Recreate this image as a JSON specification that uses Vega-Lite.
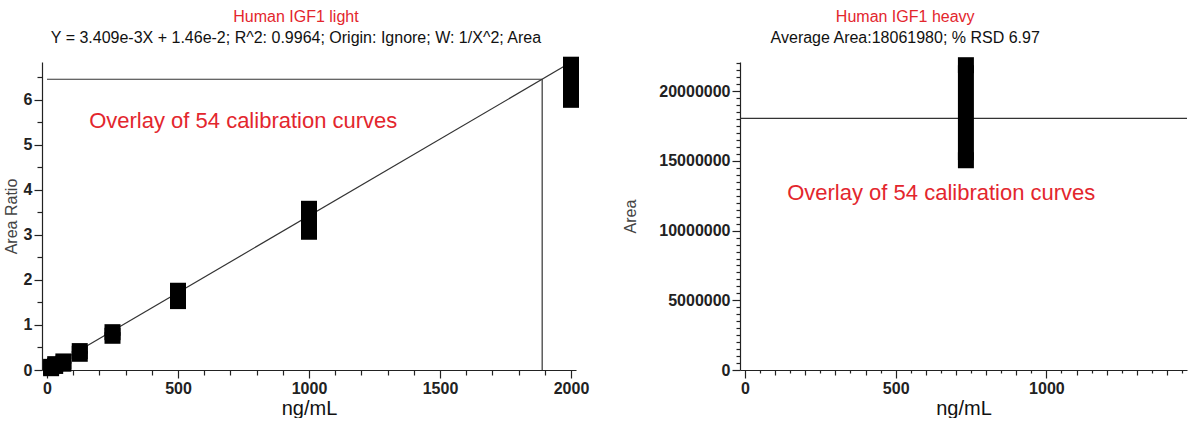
{
  "$schema": "https://vega.github.io/schema/vega-lite/v6.json",
  "padding": {"left": 3, "top": 8, "right": 0, "bottom": 0},
  "spacing": 33,
  "config": {
    "view": {"stroke": null},
    "font": "Liberation Sans",
    "axis": {
      "grid": false,
      "domainColor": "#222",
      "tickColor": "#222",
      "domainWidth": 1.2,
      "tickWidth": 1.2,
      "labelFont": "Liberation Sans",
      "labelFontSize": 16,
      "labelFontWeight": "bold",
      "labelColor": "#222",
      "titleFont": "Liberation Sans",
      "titleFontWeight": "normal",
      "labelPadding": 2
    },
    "title": {
      "font": "Liberation Sans",
      "subtitleFont": "Liberation Sans",
      "fontSize": 16,
      "subtitleFontSize": 16,
      "fontWeight": "normal",
      "color": "#e3262d",
      "subtitleColor": "#111",
      "anchor": "middle",
      "frame": "bounds",
      "offset": 11,
      "subtitlePadding": 5
    }
  },
  "hconcat": [
    {
      "title": {"text": "Human IGF1 light", "subtitle": "Y = 3.409e-3X + 1.46e-2; R^2: 0.9964; Origin: Ignore; W: 1/X^2; Area"},
      "width": 534,
      "height": 308,
      "resolve": {"axis": {"x": "independent", "y": "independent"}},
      "layer": [
        {
          "data": {"values": [{"conc": 0, "ratio": 0.0146}, {"conc": 2000, "ratio": 6.8326}]},
          "mark": {"type": "line", "color": "#333", "strokeWidth": 1.2},
          "encoding": {
            "x": {"field": "conc", "type": "quantitative", "scale": {"domain": [0, 2000], "nice": false},
              "axis": {"orient": "bottom", "values": [0, 500, 1000, 1500, 2000], "format": "d", "tickSize": 8, "title": "ng/mL", "titleFontSize": 20, "titleColor": "#111", "titlePadding": 2}},
            "y": {"field": "ratio", "type": "quantitative", "scale": {"domain": [0, 6.84], "nice": false},
              "axis": {"orient": "left", "values": [0, 1, 2, 3, 4, 5, 6], "tickSize": 8, "title": "Area Ratio", "titleFontSize": 16, "titleColor": "#444", "titlePadding": 4}}
          }
        },
        {
          "data": {"values": [
            {"x": 0, "x2": 1890, "y": 6.457, "y2": 6.457},
            {"x": 1890, "x2": 1890, "y": 0, "y2": 6.457}
          ]},
          "mark": {"type": "rule", "color": "#333", "strokeWidth": 1.2},
          "encoding": {
            "x": {"field": "x", "type": "quantitative",
              "axis": {"orient": "bottom", "values": [100, 200, 300, 400, 600, 700, 800, 900, 1100, 1200, 1300, 1400, 1600, 1700, 1800, 1900], "tickSize": 5, "labels": false, "domain": false, "title": null}},
            "x2": {"field": "x2"},
            "y": {"field": "y", "type": "quantitative",
              "axis": {"orient": "left", "values": [0.5, 1.5, 2.5, 3.5, 4.5, 5.5, 6.5], "tickSize": 5, "labels": false, "domain": false, "title": null}},
            "y2": {"field": "y2"}
          }
        },
        {
          "data": {"name": "light"},
          "mark": {"type": "bar", "color": "#000", "size": 16},
          "encoding": {
            "x": {"field": "conc", "type": "quantitative", "axis": null},
            "y": {"field": "lo", "type": "quantitative", "axis": null},
            "y2": {"field": "hi"}
          }
        },
        {
          "data": {"name": "light"},
          "mark": {"type": "point", "shape": "square", "filled": true, "size": 256, "color": "#000", "opacity": 1},
          "encoding": {
            "x": {"field": "conc", "type": "quantitative", "axis": null},
            "y": {"field": "lo", "type": "quantitative", "axis": null}
          }
        },
        {
          "data": {"name": "light"},
          "mark": {"type": "point", "shape": "square", "filled": true, "size": 256, "color": "#000", "opacity": 1},
          "encoding": {
            "x": {"field": "conc", "type": "quantitative", "axis": null},
            "y": {"field": "hi", "type": "quantitative", "axis": null}
          }
        },
        {
          "data": {"values": [{"x": 161, "y": 5.52, "label": "Overlay of 54 calibration curves"}]},
          "mark": {"type": "text", "align": "left", "baseline": "middle", "fontSize": 22, "color": "#e3262d", "font": "Liberation Sans"},
          "encoding": {
            "x": {"field": "x", "type": "quantitative", "axis": null},
            "y": {"field": "y", "type": "quantitative", "axis": null},
            "text": {"field": "label"}
          }
        }
      ]
    },
    {
      "title": {"text": "Human IGF1 heavy", "subtitle": "Average Area:18061980; % RSD 6.97"},
      "width": 447,
      "height": 308,
      "resolve": {"axis": {"x": "independent", "y": "independent"}},
      "layer": [
        {
          "data": {"values": [{"area": 18061980}]},
          "mark": {"type": "rule", "color": "#333", "strokeWidth": 1.2},
          "encoding": {
            "y": {"field": "area", "type": "quantitative", "axis": null}
          }
        },
        {
          "data": {"name": "heavy"},
          "mark": {"type": "bar", "color": "#000", "size": 16},
          "encoding": {
            "x": {"field": "conc", "type": "quantitative", "scale": {"domain": [0, 1450], "nice": false},
              "axis": {"orient": "bottom", "values": [0, 500, 1000], "format": "d", "tickSize": 8, "title": "ng/mL", "titleFontSize": 20, "titleColor": "#111", "titlePadding": 2}},
            "y": {"field": "lo", "type": "quantitative", "scale": {"domain": [0, 22100000], "nice": false},
              "axis": {"orient": "left", "values": [0, 5000000, 10000000, 15000000, 20000000], "format": "d", "tickSize": 8, "title": "Area", "titleFontSize": 16, "titleColor": "#444", "titlePadding": 20}},
            "y2": {"field": "hi"}
          }
        },
        {
          "data": {"name": "heavy"},
          "mark": {"type": "point", "shape": "square", "filled": true, "size": 256, "color": "#000", "opacity": 1},
          "encoding": {
            "x": {"field": "conc", "type": "quantitative",
              "axis": {"orient": "bottom", "values": [50, 150, 250, 350, 450, 550, 650, 750, 850, 950, 1050, 1150, 1250, 1350, 1450], "tickSize": 3, "labels": false, "domain": false, "title": null}},
            "y": {"field": "lo", "type": "quantitative",
              "axis": {"orient": "left", "values": [500000, 1000000, 1500000, 2000000, 2500000, 3000000, 3500000, 4000000, 4500000, 5500000, 6000000, 6500000, 7000000, 7500000, 8000000, 8500000, 9000000, 9500000, 10500000, 11000000, 11500000, 12000000, 12500000, 13000000, 13500000, 14000000, 14500000, 15500000, 16000000, 16500000, 17000000, 17500000, 18000000, 18500000, 19000000, 19500000, 20500000, 21000000, 21500000, 22000000], "tickSize": 4, "labels": false, "domain": false, "title": null}}
          }
        },
        {
          "data": {"name": "heavy"},
          "mark": {"type": "point", "shape": "square", "filled": true, "size": 256, "color": "#000", "opacity": 1},
          "encoding": {
            "x": {"field": "conc", "type": "quantitative",
              "axis": {"orient": "bottom", "values": [100, 200, 300, 400, 600, 700, 800, 900, 1100, 1200, 1300, 1400], "tickSize": 5, "labels": false, "domain": false, "title": null}},
            "y": {"field": "hi", "type": "quantitative", "axis": null}
          }
        },
        {
          "data": {"values": [{"x": 140, "y": 12700000, "label": "Overlay of 54 calibration curves"}]},
          "mark": {"type": "text", "align": "left", "baseline": "middle", "fontSize": 22, "color": "#e3262d", "font": "Liberation Sans"},
          "encoding": {
            "x": {"field": "x", "type": "quantitative", "axis": null},
            "y": {"field": "y", "type": "quantitative", "axis": null},
            "text": {"field": "label"}
          }
        }
      ]
    }
  ],
  "datasets": {
    "light": [
      {"conc": 15.6, "lo": 0.04, "hi": 0.07},
      {"conc": 31.25, "lo": 0.09, "hi": 0.13},
      {"conc": 62.5, "lo": 0.14, "hi": 0.19},
      {"conc": 125, "lo": 0.36, "hi": 0.42},
      {"conc": 250, "lo": 0.76, "hi": 0.84},
      {"conc": 500, "lo": 1.53, "hi": 1.76},
      {"conc": 1000, "lo": 3.07, "hi": 3.58},
      {"conc": 2000, "lo": 6.0, "hi": 6.78}
    ],
    "heavy": [
      {"conc": 733, "lo": 15050000, "hi": 21870000}
    ]
  }
}
